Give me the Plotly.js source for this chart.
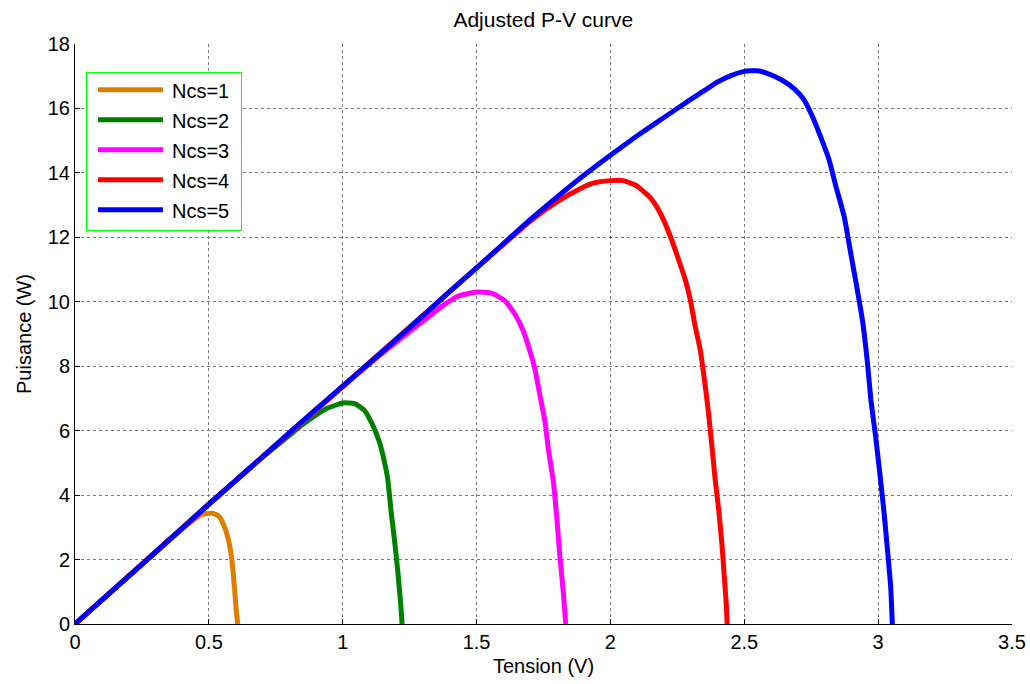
<!DOCTYPE html>
<html>
<head>
<meta charset="utf-8">
<script src="https://cdn.plot.ly/plotly-3.0.1.min.js"></script>
<style>html,body{margin:0;padding:0;background:#fff;}#chart{width:1030px;height:684px;}</style>
</head>
<body>
<div id="chart"></div>
<script>
// Ncs = 1
const v1 = [0,0.2,0.35,0.394,0.444,0.475,0.512,0.537,0.556,0.575,0.587,0.596,0.603,0.608];
const p1 = [0,1.48,2.58,2.9,3.24,3.4,3.44,3.35,3.06,2.54,1.92,1.09,0.36,0];
// Ncs = 2
const v2 = [0,0.5,0.7,0.8,0.844,0.894,0.944,1.0,1.044,1.081,1.112,1.137,1.156,1.168,1.181,1.193,1.206,1.215,1.222];
const p2 = [0,3.71,5.17,5.85,6.15,6.45,6.7,6.86,6.84,6.63,6.17,5.65,5.03,4.51,3.47,2.64,1.61,0.78,0];
// Ncs = 3
const v3 = [0,0.5,1.0,1.1,1.2,1.3,1.369,1.432,1.5,1.556,1.606,1.643,1.674,1.699,1.718,1.737,1.756,1.768,1.787,1.799,1.811,1.824,1.833];
const p3 = [0,3.72,7.36,8.08,8.75,9.4,9.85,10.18,10.3,10.27,10.03,9.62,9.10,8.48,7.91,7.08,6.26,5.43,4.40,3.36,2.12,0.98,0];
// Ncs = 4
const v4 = [0,0.5,1.0,1.5,1.6,1.7,1.8,1.885,1.935,2.0,2.048,2.098,2.148,2.185,2.223,2.254,2.279,2.298,2.316,2.335,2.354,2.366,2.379,2.391,2.404,2.416,2.425,2.433,2.436];
const p4 = [0,3.72,7.38,11.05,11.78,12.5,13.1,13.5,13.68,13.76,13.76,13.6,13.24,12.77,12.05,11.32,10.70,10.08,9.26,8.53,7.39,6.57,5.53,4.50,3.57,2.53,1.50,0.57,0];
// Ncs = 5
const v5 = [0,0.1,0.2,0.3,0.4,0.5,0.6,0.7,0.8,0.9,1.0,1.1,1.2,1.3,1.4,1.5,1.6,1.7,1.8,1.9,2.0,2.1,2.2,2.3,2.35,2.4,2.45,2.5,2.525,2.55,2.575,2.637,2.687,2.724,2.755,2.786,2.817,2.842,2.873,2.898,2.923,2.942,2.960,2.973,2.991,3.007,3.022,3.035,3.047,3.053];
const p5 = [0,0.74,1.48,2.22,2.97,3.72,4.45,5.19,5.93,6.66,7.38,8.1,8.83,9.57,10.32,11.05,11.8,12.55,13.25,13.92,14.55,15.15,15.72,16.28,16.55,16.82,17.02,17.15,17.17,17.17,17.12,16.90,16.61,16.26,15.74,15.10,14.40,13.59,12.65,11.49,10.33,9.39,8.11,6.95,5.79,4.62,3.46,2.29,1.13,0];

const names = ['Ncs=1','Ncs=2','Ncs=3','Ncs=4','Ncs=5'];
const colors = ['#E07C00','#008000','#FF00FF','#FF0000','#0000FF'];
const xs = [v1,v2,v3,v4,v5];
const ys = [p1,p2,p3,p4,p5];

const xTicks = [0,0.5,1,1.5,2,2.5,3,3.5];
const xTickText = ['0','0.5','1','1.5','2','2.5','3','3.5'];
const yTicks = [0,2,4,6,8,10,12,14,16,18];

const traces = names.map((n,i)=>({
  x: xs[i], y: ys[i], name: n, type: 'scatter', mode: 'lines',
  line: {color: colors[i], width: 5, shape: 'spline', smoothing: 0.5}
}));

const font = 'Arial, "Liberation Sans", sans-serif';
const layout = {
  width: 1030, height: 684,
  margin: {l: 75, r: 18, t: 44, b: 60},
  paper_bgcolor: '#fff', plot_bgcolor: '#fff',
  font: {family: font, color: '#000', size: 20},
  title: {text: 'Adjusted P-V curve', font: {family: font, size: 21, color: '#000'}, x: 0.5275, xanchor: 'center', y: 0.972, yanchor: 'middle'},
  showlegend: true,
  legend: {x: 0.0117, y: 0.952, xanchor: 'left', yanchor: 'top', bgcolor: '#fff', bordercolor: '#00FF00', borderwidth: 1, font: {family: font, size: 20, color: '#000'}, traceorder: 'normal'},
  xaxis: {
    range: [0, 3.5], tickvals: xTicks, ticktext: xTickText,
    showgrid: true, gridcolor: '#777', griddash: 'dot', gridwidth: 1,
    zeroline: false, showline: true, linecolor: '#000', linewidth: 1,
    ticks: 'inside', ticklen: 5, tickcolor: '#000',
    tickfont: {family: font, size: 20, color: '#000'},
    title: {text: 'Tension (V)', font: {family: font, size: 20, color: '#000'}, standoff: 6}
  },
  yaxis: {
    range: [0, 18], tickvals: yTicks,
    showgrid: true, gridcolor: '#777', griddash: 'dot', gridwidth: 1,
    zeroline: false, showline: true, linecolor: '#000', linewidth: 1,
    ticks: 'inside', ticklen: 5, tickcolor: '#000',
    tickfont: {family: font, size: 20, color: '#000'},
    title: {text: 'Puisance (W)', font: {family: font, size: 20, color: '#000'}, standoff: 10}
  }
};

function restyleLegend() {
  const leg = document.querySelector('#chart .legend');
  if (!leg) return;
  const items = leg.querySelectorAll('.traces');
  items.forEach((t, i) => {
    t.setAttribute('transform', 'translate(0,' + (18 + 30 * i) + ')');
    const p = t.querySelector('.legendlines path');
    if (p) p.setAttribute('d', 'M12,0h65');
    const tx = t.querySelector('.legendtext');
    if (tx) tx.setAttribute('x', 86);
  });
  const bg = leg.querySelector('rect.bg');
  if (bg) { bg.setAttribute('width', 155); bg.setAttribute('height', 158); }
  const sb = leg.querySelector('.scrollbox');
  if (sb) sb.removeAttribute('clip-path');
  document.querySelectorAll('#chart clipPath[id*="legend"] rect').forEach(r => {
    r.setAttribute('width', 400); r.setAttribute('height', 400);
  });
}

Plotly.newPlot('chart', traces, layout, {staticPlot: true, displayModeBar: false}).then(restyleLegend);
</script>
</body>
</html>
